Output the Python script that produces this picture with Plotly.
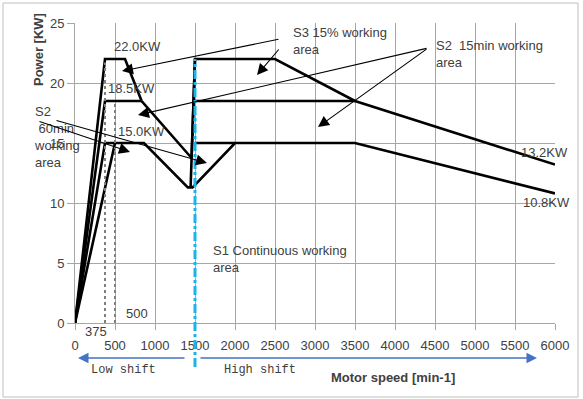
import plotly.graph_objects as go

# ---- data (speed in min-1, power in kW) ----
s3_speed = [0, 375, 625, 833, 1457, 1500, 2500, 3500, 6000]
s3_power = [0, 22, 22, 18.5, 13.75, 22, 22, 18.5, 13.2]

s2_15_speed = [0, 375, 833, None, 1492, 3500]
s2_15_power = [0, 18.5, 18.5, None, 18.5, 18.5]

s2_60_speed = [0, 375, 862, 1410, 1470, 2000, 3500, 6000]
s2_60_power = [0, 15, 15, 11.3, 11.3, 15, 15, 10.8]

s1_speed = [0, 500, None, 1496, 2000]
s1_power = [0, 15, None, 15, 15]

shift_speed = [1445, 1500]
shift_power = [11.3, 22]

ref_speeds = [375, 500]
ref_tops = [21.7, 18.5]

x_ticks = list(range(0, 6001, 500))
y_ticks = [0, 5, 10, 15, 20, 25]

# ---- layout helpers (pixel geometry of the plot area) ----
W, H = 583, 399
L, R, T, B = 75, 28, 23, 76
PW, PH = W - L - R, H - T - B


def px2x(px):
    return (px - L) / PW * 6000


def py2y(py):
    return (T + PH - py) / PH * 25


def ppx(px):
    return (px - L) / PW


def ppy(py):
    return (T + PH - py) / PH


FONT = "Liberation Sans"
TXT = "#404040"
GRID = "#a6a6a6"

fig = go.Figure()
line = dict(color="black", width=2.6)
for xs, ys in [(s3_speed, s3_power), (s2_15_speed, s2_15_power),
               (s2_60_speed, s2_60_power), (s1_speed, s1_power),
               (shift_speed, shift_power)]:
    fig.add_trace(go.Scatter(x=xs, y=ys, mode="lines", line=line,
                             hoverinfo="skip", showlegend=False, connectgaps=False))

for sp, top in zip(ref_speeds, ref_tops):
    fig.add_trace(go.Scatter(x=[sp, sp], y=[0, top], mode="lines",
                             line=dict(color="#7f7f7f", width=2, dash="dot"),
                             hoverinfo="skip", showlegend=False))

shapes = [
    # outer frame
    dict(type="rect", xref="paper", yref="paper", x0=ppx(3), x1=ppx(578),
         y0=ppy(397), y1=ppy(3), line=dict(color="#bfbfbf", width=1)),
    # white text boxes hiding gridlines
    dict(type="rect", xref="paper", yref="paper", x0=ppx(278), x1=ppx(414),
         y0=ppy(47), y1=ppy(10), fillcolor="white", line=dict(width=0), layer="between"),
    dict(type="rect", xref="paper", yref="paper", x0=ppx(197), x1=ppx(385),
         y0=ppy(277), y1=ppy(233), fillcolor="white", line=dict(width=0), layer="between"),
    # cyan shift line
    dict(type="line", xref="x", yref="paper", x0=1500, x1=1500,
         y0=ppy(367), y1=22 / 25, line=dict(color="#1cb2ea", width=3, dash="dashdot"),
         layer="above"),
]

ann = []


def text(t, px, py, xanchor="left", size=13, font=FONT, bold=False, angle=0, color=TXT):
    ann.append(dict(text=("<b>%s</b>" % t) if bold else t, xref="paper", yref="paper",
                    x=ppx(px), y=ppy(py), xanchor=xanchor, yanchor="middle",
                    showarrow=False, textangle=angle, align="left",
                    font=dict(family=font, size=size, color=color)))


text("22.0KW", 112, 46)
text("18.5KW", 106, 88)
text("15.0KW", 116, 131)
text("13.2KW", 519, 152)
text("10.8KW", 521, 202)
text("S3 15% working<br>area", 291, 41)
text("S2\u00a0\u00a015min working<br>area", 434, 53.5)
text("S2<br>\u00a060min<br>working<br>area", 32, 137)
text("S1 Continuous working<br>area", 211, 259)
text("375", 96, 331, xanchor="center")
text("500", 137, 313, xanchor="center")
text("Low shift", 89, 370, font="Liberation Mono", size=12)
text("High shift", 222, 370, font="Liberation Mono", size=12)
text("Power [KW]", 39, 50, xanchor="center", bold=True, angle=-90)
text("Motor speed [min-1]", 393, 377, xanchor="center", bold=True)


def arrow(tail, head):
    ann.append(dict(x=px2x(head[0]), y=py2y(head[1]), xref="x", yref="y",
                    ax=px2x(tail[0]), ay=py2y(tail[1]), axref="x", ayref="y",
                    showarrow=True, arrowhead=2, arrowsize=2.0, arrowwidth=1.1,
                    arrowcolor="black", text="", standoff=0))


arrow((280, 39), (122, 71))
arrow((280, 48), (257, 75))
arrow((428, 48), (138, 115))
arrow((428, 48), (318, 127))
arrow((38, 121), (130, 152))
arrow((55, 120), (207, 163))


def blue_arrow(tail_px, head_px, py):
    ann.append(dict(x=ppx(head_px), y=ppy(py), xref="paper", yref="paper",
                    ax=tail_px - head_px, ay=0, axref="pixel", ayref="pixel",
                    showarrow=True, arrowhead=2, arrowsize=1.4, arrowwidth=1.5,
                    arrowcolor="#4472c4", text="", standoff=0))


blue_arrow(186, 78, 358)
blue_arrow(199, 537, 358)

fig.update_layout(
    width=W, height=H, margin=dict(l=L, r=R, t=T, b=B, pad=0),
    paper_bgcolor="white", plot_bgcolor="white",
    font=dict(family=FONT, size=13, color=TXT),
    shapes=shapes, annotations=ann, showlegend=False,
)
fig.update_xaxes(range=[0, 6000], tickvals=x_ticks, ticktext=[str(v) for v in x_ticks],
                 showgrid=True, gridcolor=GRID, gridwidth=1, zeroline=False,
                 showline=True, linecolor=GRID, linewidth=1,
                 ticks="outside", ticklen=6, tickcolor=GRID,
                 tickfont=dict(family=FONT, size=13, color=TXT), ticklabelstandoff=4)
fig.update_yaxes(range=[0, 25], tickvals=y_ticks, ticktext=[str(v) for v in y_ticks],
                 showgrid=True, gridcolor=GRID, gridwidth=1, zeroline=False,
                 showline=True, linecolor=GRID, linewidth=1,
                 ticks="outside", ticklen=7, tickcolor=GRID,
                 tickfont=dict(family=FONT, size=13, color=TXT))

fig.write_html("out.html", config={"displayModeBar": False},
               post_script="document.body.style.margin='0';document.body.style.padding='0';"
                           "document.body.style.overflow='hidden';")
